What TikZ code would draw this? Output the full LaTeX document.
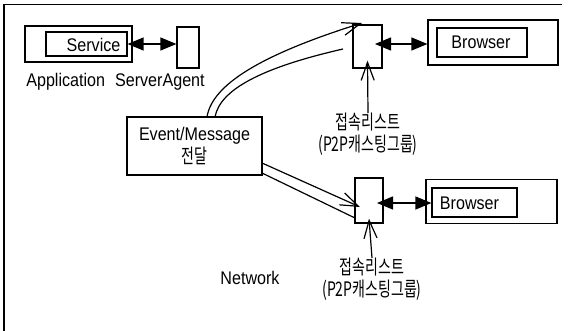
\documentclass[tikz,border=0pt]{standalone}
\usepackage{fontspec}
\setmainfont{Liberation Sans}[FakeStretch=0.88]
\newfontfamily\kr{Noto Sans CJK KR}[FakeStretch=0.7]
\usetikzlibrary{arrows.meta,calc}

\begin{document}
\begin{tikzpicture}[x=1pt,y=-1pt,
  every node/.style={font=\fontsize{18.3}{20}\selectfont, inner sep=0pt},
  box/.style={draw, line width=1.2pt, inner sep=0pt},
  klabel/.style={align=center, font=\kr\fontsize{20}{21.5}\selectfont},
  dbl/.style={{Triangle[length=16pt,width=13pt]}-{Triangle[length=16pt,width=13pt]}, line width=1.3pt},
  opn/.style={-{Straight Barb[length=18pt,width=13pt]}, line width=1.2pt},
  flow/.style={line width=1.2pt}
]
\useasboundingbox (0,0) rectangle (579,331);

% frame (left and top edges)
\draw[line width=1.7pt] (4,331) -- (4,4.5);
\draw[line width=1.4pt] (4,4.5) -- (562,4.5);

% application server with its service, and the agent
\node[box, minimum width=107, minimum height=36] (svcOuter) at (78.5,44) {};
\node[box, minimum width=81, minimum height=24] (svc) at (86.5,44) {};
\node[anchor=base] (svcText) at (93.5,51.5) {Service};
\node[box, minimum width=22, minimum height=41] (agent) at (188,47.5) {};
\draw[dbl] (svc.east) -- (svc.east -| agent.west);
\node[anchor=base] (appText) at (115.5,87) {Application\hspace{0.55em}ServerAgent};

% event / message relay
\node[box, minimum width=135, minimum height=58, align=center] (evt) at (194.5,146)
  {Event/Message\\[1pt]{\kr\fontsize{20}{21.5}\selectfont 전달}};

% upper peer: connection list and browser
\node[box, minimum width=29, minimum height=43] (connTop) at (367.5,46.5) {};
\node[box, minimum width=130, minimum height=45] (brTopOuter) at (493,42.5) {};
\node[box, minimum width=90, minimum height=29] (brTop) at (482,42.5) {};
\node[anchor=base] (brTopText) at (481,48.5) {Browser};
\coordinate (tIn) at (375,44);
\draw[dbl] (tIn) -- (tIn -| brTopOuter.west);
\node[klabel, anchor=north] (lblTop) at (368,113) {접속리스트\\(P2P캐스팅그룹)};
\draw[opn] (lblTop.north) -- ($(connTop.south)+(0,-8)$);

% lower peer: connection list and browser
\node[box, minimum width=28, minimum height=45] (connBot) at (369,200.5) {};
\node[box, minimum width=131, minimum height=43.5] (brBotOuter) at (491.5,201.5) {};
\node[box, minimum width=85, minimum height=29] (brBot) at (474.5,202.5) {};
\node[anchor=base] (brBotText) at (469.5,209.5) {Browser};
\coordinate (bIn) at (377,203);
\draw[dbl] (bIn) -- (bIn -| brBot.west);
\node[klabel, anchor=north] (lblBot) at (372,258) {접속리스트\\(P2P캐스팅그룹)};
\draw[opn] (lblBot.north) -- ($(connBot.south)+(0,-5)$);

% network label
\node[anchor=base] (netText) at (250,285) {Network};

% hollow flow arrows from the relay to both peers
\coordinate (f1a) at (207,117);
\coordinate (f1b) at (215,117);
\coordinate (t1a) at (362,23);
\coordinate (t1b) at (343,49);
\draw[flow, opn] (f1a) .. controls (212,85) and (260,55) .. (t1a);
\draw[flow] (f1b) .. controls (220,90) and (260,68) .. (t1b);

\coordinate (f2a) at (262,163);
\coordinate (f2b) at (262,173);
\coordinate (t2a) at (360,207);
\coordinate (t2b) at (355,218);
\draw[flow, opn] (f2a) -- (t2a);
\draw[flow] (f2b) -- (t2b);
\end{tikzpicture}
\end{document}
